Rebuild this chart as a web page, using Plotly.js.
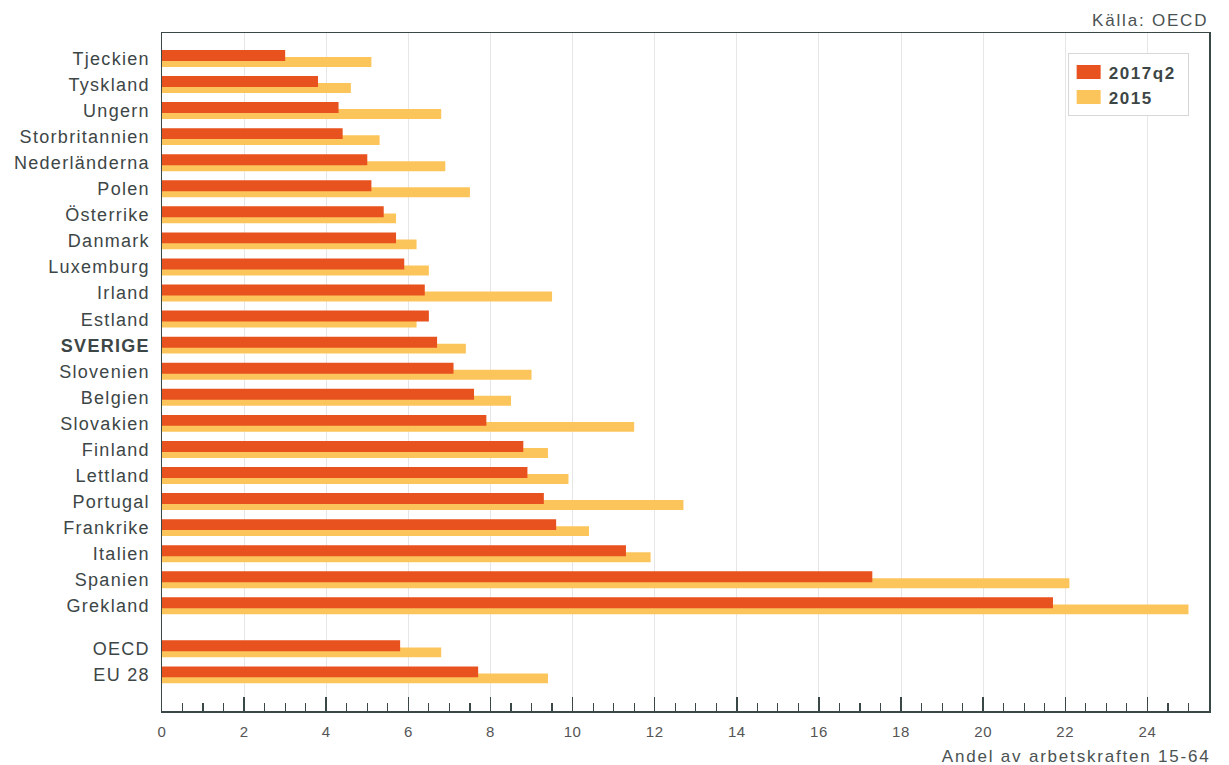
<!DOCTYPE html>
<html>
<head>
<meta charset="utf-8">
<script src="https://cdn.plot.ly/plotly-3.0.1.min.js"></script>
<style>
html,body{margin:0;padding:0;background:#fff;}
#chart{width:1229px;height:765px;}
#chart .ytick text{letter-spacing:1.3px;}
#chart .xtick text{letter-spacing:0.6px;}
#chart .annotation-text{letter-spacing:1.8px;}
#chart .legendtext{letter-spacing:1.6px;}
</style>
</head>
<body>
<div id="chart"></div>
<script>
const countries = ["Tjeckien","Tyskland","Ungern","Storbritannien","Nederländerna","Polen","Österrike","Danmark","Luxemburg","Irland","Estland","SVERIGE","Slovenien","Belgien","Slovakien","Finland","Lettland","Portugal","Frankrike","Italien","Spanien","Grekland","OECD","EU 28"];
const values2017q2 = [3.0,3.8,4.3,4.4,5.0,5.1,5.4,5.7,5.9,6.4,6.5,6.7,7.1,7.6,7.9,8.8,8.9,9.3,9.6,11.3,17.3,21.7,5.8,7.7];
const values2015 = [5.1,4.6,6.8,5.3,6.9,7.5,5.7,6.2,6.5,9.5,6.2,7.4,9.0,8.5,11.5,9.4,9.9,12.7,10.4,11.9,22.1,25.0,6.8,9.4];
const xTickVals = [0,2,4,6,8,10,12,14,16,18,20,22,24];

// row positions: a gap separates the aggregates (OECD, EU 28) from the countries
const nCountries = 22;
const positions = countries.map((c, i) => i < nCountries ? i : i + 0.65);
const tickText = countries.map(c => c === "SVERIGE" ? "<b>SVERIGE</b>" : c);

const font = "Liberation Sans, Arial, sans-serif";

const traces = [
  {
    type: "bar", orientation: "h", name: "2015",
    x: values2015, y: positions,
    offset: -0.06, width: 0.38,
    marker: {color: "#FCC55B", line: {width: 0}},
    hoverinfo: "x"
  },
  {
    type: "bar", orientation: "h", name: "2017q2",
    x: values2017q2, y: positions,
    offset: -0.33, width: 0.42,
    marker: {color: "#E8521E", line: {width: 0}},
    hoverinfo: "x"
  }
];

const layout = {
  width: 1229, height: 765,
  margin: {l: 162, r: 20, t: 33, b: 54},
  paper_bgcolor: "#fff", plot_bgcolor: "#fff",
  barmode: "overlay",
  font: {family: font, color: "#3d4646"},
  showlegend: true,
  legend: {
    x: 0.865, xanchor: "left", y: 0.97, yanchor: "top",
    traceorder: "reversed",
    bordercolor: "#d8d8d8", borderwidth: 1, bgcolor: "#fff",
    font: {size: 17, family: font, color: "#3d4646", weight: "bold"},
    tracegroupgap: 0
  },
  xaxis: {
    range: [0, 25.5],
    tickvals: xTickVals,
    ticktext: xTickVals.map(String),
    ticks: "inside", ticklen: 14, tickwidth: 1.5, tickcolor: "#3a4747",
    minor: {dtick: 0.5, ticks: "inside", ticklen: 8, tickwidth: 1.2, tickcolor: "#3a4747", showgrid: false},
    showgrid: true, gridcolor: "#e6e6e6", gridwidth: 1,
    showline: true, linecolor: "#3a4747", linewidth: 1.5, mirror: true,
    zeroline: false,
    tickfont: {size: 15, color: "#555", family: font},
    ticklabelstandoff: 6
  },
  yaxis: {
    range: [25.03, -0.98],
    tickvals: positions, ticktext: tickText,
    ticks: "", showgrid: false, zeroline: false,
    showline: true, linecolor: "#3a4747", linewidth: 1.5, mirror: true,
    tickfont: {size: 18, color: "#3d4646", family: font},
    ticklabelstandoff: 7
  },
  annotations: [
    {text: "Källa: OECD", xref: "paper", yref: "paper", x: 1, y: 1, xanchor: "right", yanchor: "bottom",
     xshift: -9, yshift: 1, showarrow: false, font: {size: 17, color: "#4a5252", family: font}},
    {text: "Andel av arbetskraften 15-64", xref: "paper", yref: "paper", x: 1, y: 0, xanchor: "right", yanchor: "top",
     xshift: -22, yshift: -34, showarrow: false, font: {size: 17, color: "#4a5252", family: font}}
  ]
};

Plotly.newPlot("chart", traces, layout, {displayModeBar: false, staticPlot: true}).then(gd => {
  // enlarge the legend swatches to match the reference's wide colour chips
  gd.querySelectorAll(".legendpoints path").forEach(p => {
    p.setAttribute("d", "M-12,7H12V-7H-12Z");
  });
  // widen the legend frame (and its clip area) so it encloses the letter-spaced labels
  gd.querySelectorAll(".legend rect.bg").forEach(r => r.setAttribute("width", "120"));
  gd.querySelectorAll("clipPath").forEach(cp => {
    if (cp.id && cp.id.indexOf("legend") !== -1) {
      cp.querySelectorAll("rect").forEach(r => r.setAttribute("width", "130"));
    }
  });
});
</script>
</body>
</html>
